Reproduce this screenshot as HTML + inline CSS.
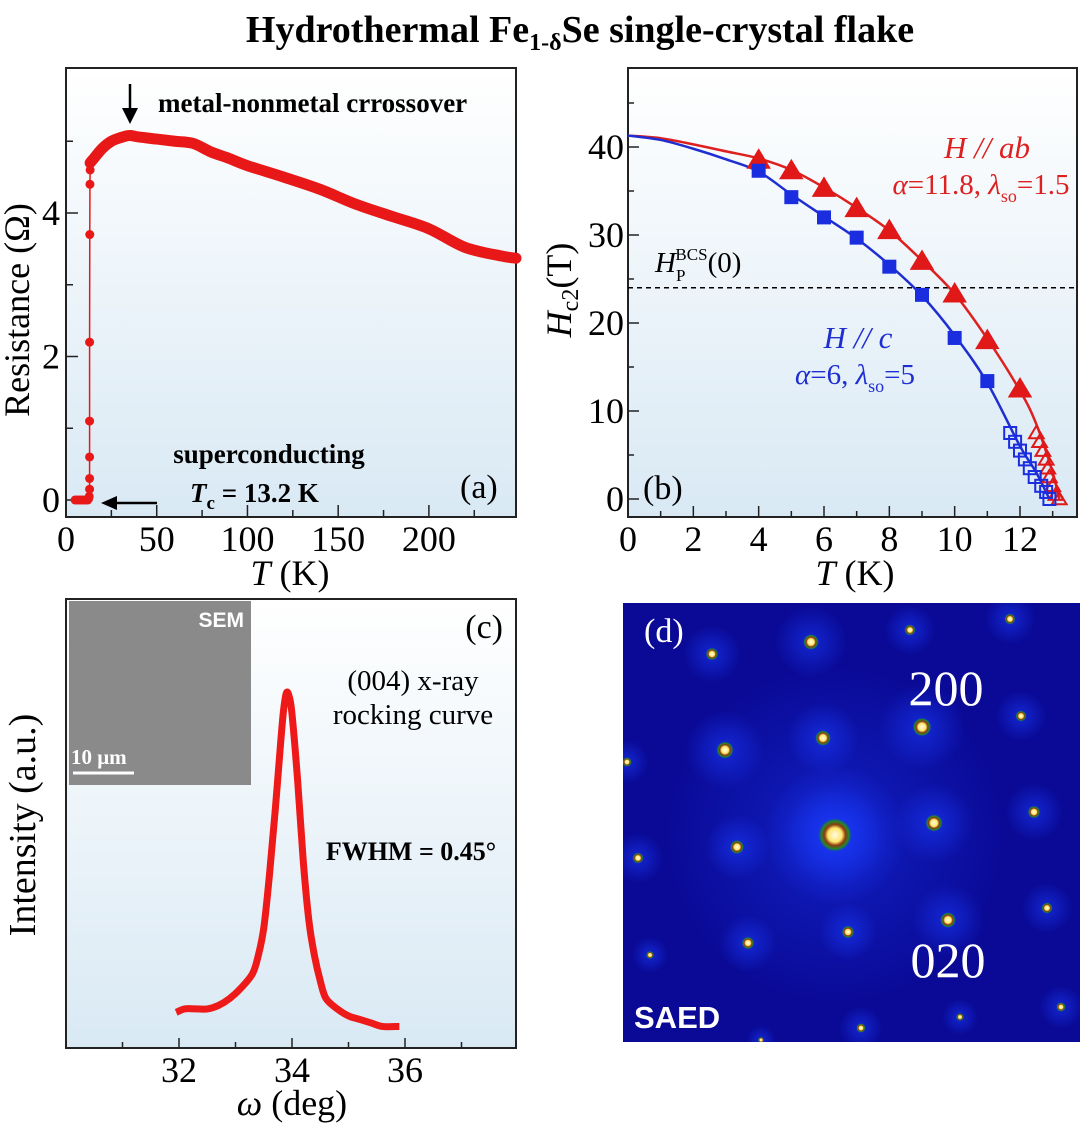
<!DOCTYPE html>
<html><head><meta charset="utf-8"><style>
html,body{margin:0;padding:0;background:#fff;}
svg{display:block;font-family:"Liberation Serif",serif;}
</style></head><body>
<svg id="fig" width="1080" height="1124" viewBox="0 0 1080 1124" xmlns="http://www.w3.org/2000/svg" font-family="Liberation Serif, serif">
<defs>
<linearGradient id="bg" x1="0" y1="0" x2="0" y2="1"><stop offset="0" stop-color="#ffffff"/><stop offset="1" stop-color="#d9e9f4"/></linearGradient>
<radialGradient id="halo"><stop offset="0" stop-color="#1a3cff" stop-opacity="0.95"/><stop offset="1" stop-color="#1a3cff" stop-opacity="0"/></radialGradient>
<radialGradient id="core"><stop offset="0" stop-color="#fffbe8"/><stop offset="0.4" stop-color="#ffe66a"/><stop offset="0.6" stop-color="#8a3a10"/><stop offset="0.8" stop-color="#1f8a2a"/><stop offset="1" stop-color="#1030e0" stop-opacity="0"/></radialGradient>
<clipPath id="dclip"><rect x="623" y="603" width="457" height="439"/></clipPath>
</defs>
<text x="580" y="42" text-anchor="middle" font-size="38" font-weight="bold">Hydrothermal Fe<tspan font-size="24" dy="8">1-δ</tspan><tspan dy="-8">Se single-crystal flake</tspan></text>
</svg>
<script>
// ---------- Panel (a) data ----------
const aTempLine = [13.3,15,20,25,30,35,40,50,60,70,80,90,100,120,140,160,180,200,220,240,248];
const aResLine  = [4.7,4.75,4.9,5.0,5.05,5.08,5.06,5.03,5.0,4.97,4.85,4.76,4.66,4.5,4.33,4.12,3.95,3.78,3.52,3.4,3.37];
const aTempDots = [5,6,7,8,9,10,11,12,12.5,12.8,13,13,13,13,13,13.1,13.2,13.3,13.4];
const aResDots  = [0,0,0,0,0,0,0,0,0.02,0.05,0.15,0.3,0.6,1.1,2.2,3.7,4.4,4.6,4.7];
const aXTicks = [0,50,100,150,200];
const aYTicks = [0,2,4];
// ---------- Panel (b) data ----------
const bTab = [4,5,6,7,8,9,10,11,12];
const bHab = [38.5,37.3,35.3,33,30.5,27,23.3,18,12.5];
const bTabOpen = [12.5,12.6,12.7,12.8,12.85,12.9,13,13.1,13.2];
const bHabOpen = [7.5,6.5,5.5,4.5,3.5,2.5,1.5,0.5,0];
const bTc = [4,5,6,7,8,9,10,11];
const bHc = [37.3,34.3,32,29.7,26.4,23.2,18.3,13.4];
const bTcOpen = [11.7,11.85,12.0,12.15,12.3,12.45,12.65,12.8,12.9];
const bHcOpen = [7.5,6.5,5.5,4.5,3.5,2.5,1.5,0.8,0];
const bFitTab = [0,1,2,3,4,5,6,7,8,9,10,11,12,12.5,13,13.2];
const bFitHab = [41.3,41,40.3,39.5,38.7,37.4,35.4,33.1,30.5,27.1,23.3,18.2,12.3,8.5,3,0];
const bFitTc  = [0,1,2,3,4,5,6,7,8,9,10,11,12,12.5,12.9];
const bFitHc  = [41.3,40.8,39.8,38.6,37.2,34.6,32.1,29.6,26.6,23.1,18.6,13.2,6,3,0];
const bPauli = 24;
const bXTicks = [0,2,4,6,8,10,12];
const bYTicks = [0,10,20,30,40];
// ---------- Panel (c) data ----------
const cOmega = [31.95,32.1,32.3,32.5,32.7,32.9,33.1,33.3,33.4,33.5,33.6,33.7,33.8,33.85,33.9,33.95,34.0,34.1,34.2,34.3,34.4,34.5,34.6,34.8,35.0,35.2,35.4,35.6,35.9];
const cInt   = [0.09,0.1,0.1,0.1,0.11,0.13,0.16,0.2,0.25,0.33,0.48,0.66,0.86,0.95,1.0,0.99,0.94,0.75,0.52,0.35,0.25,0.18,0.13,0.1,0.08,0.07,0.06,0.05,0.05];
const cXTicks = [32,34,36];
// ---------- Panel (d) spots ----------
const dSpotX = [712,811,910,1010,725,823,922,1021,627,835,934,1034,737,638,948,848,748,1047,650,1061,960,861,761];
const dSpotY = [654,642,630,619,750,738,727,716,762,835,823,812,847,858,920,932,943,908,955,1007,1017,1028,1040];
const dSpotS = [0.8,1,0.7,0.7,1.1,1,1.2,0.7,0.6,2.2,1.1,0.8,0.9,0.7,1,0.8,0.8,0.7,0.5,0.6,0.5,0.6,0.4];

const NS="http://www.w3.org/2000/svg";
const svg=document.getElementById('fig');
function el(tag,attrs,parent){const e=document.createElementNS(NS,tag);for(const k in attrs)e.setAttribute(k,attrs[k]);(parent||svg).appendChild(e);return e;}
function lin(d0,d1,r0,r1){return v=>r0+(v-d0)*(r1-r0)/(d1-d0);}
function smooth(pts){let d=`M${pts[0][0]},${pts[0][1]}`;for(let i=0;i<pts.length-1;i++){const p0=pts[i-1]||pts[i],p1=pts[i],p2=pts[i+1],p3=pts[i+2]||p2;d+=` C${p1[0]+(p2[0]-p0[0])/6},${p1[1]+(p2[1]-p0[1])/6} ${p2[0]-(p3[0]-p1[0])/6},${p2[1]-(p3[1]-p1[1])/6} ${p2[0]},${p2[1]}`;}return d;}
function txt(x,y,s,size,attrs,name,parent){const t=el('text',Object.assign({x:x,y:y,'font-size':size},attrs||{}),parent);t.innerHTML=s;

return t;}
function frame(x0,y0,x1,y1,name){const r=el('rect',{x:x0,y:y0,width:x1-x0,height:y1-y0,fill:'url(#bg)',stroke:'#222','stroke-width':2});

}
const TK=36;

// ===== Panel A =====
(function(){
const X=lin(0,248,66,516),Y=lin(0,4,500,213);
frame(66,68,516,517,'panel-a-frame');
for(let v=0;v<=225;v+=25){const x=X(v);const t=el('line',{x1:x,x2:x,y1:517,y2:v%50?510:505,stroke:'#222','stroke-width':1.5});

}
for(let v=0;v<=5;v++){const y=Y(v);const t=el('line',{x1:66,x2:v%2?73:78,y1:y,y2:y,stroke:'#222','stroke-width':1.5});

}
aXTicks.forEach(v=>txt(X(v),551,v,TK,{'text-anchor':'middle'},'a-x-tick-label'));
aYTicks.forEach(v=>txt(60,Y(v)+12,v,TK,{'text-anchor':'end'},'a-y-tick-label'));
txt(290,585,'<tspan font-style="italic">T</tspan> (K)',36,{'text-anchor':'middle'},'a-x-axis-title');
txt(0,0,'Resistance (Ω)',36,{'text-anchor':'middle',transform:'translate(29,310) rotate(-90)'},'a-y-axis-title');
const p=el('path',{d:'M'+aTempDots.map((t,i)=>X(t)+','+Y(aResDots[i])).join(' L'),fill:'none',stroke:'#e81818','stroke-width':1.5});


const l=el('path',{d:smooth(aTempLine.map((t,i)=>[X(t),Y(aResLine[i])])),fill:'none',stroke:'#e81818','stroke-width':11,'stroke-linecap':'round'});


aTempDots.forEach((t,i)=>{const c=el('circle',{cx:X(t),cy:Y(aResDots[i]),r:4.5,fill:'#e81818'});

});
txt(158,112,'metal-nonmetal crrossover',27,{'font-weight':'bold'},'a-crossover-label');
el('line',{x1:130,y1:84,x2:130,y2:112,stroke:'#000','stroke-width':2.5});
el('path',{d:'M122,108 L130,124 L138,108 Z',fill:'#000'});
txt(269,463,'superconducting',27,{'font-weight':'bold','text-anchor':'middle'},'a-superconducting-label');
txt(190,502,'<tspan font-style="italic">T</tspan><tspan font-size="19" dy="7">c</tspan><tspan dy="-7"> = 13.2 K</tspan>',27,{'font-weight':'bold'},'a-tc-label');
el('line',{x1:157,y1:503,x2:113,y2:503,stroke:'#000','stroke-width':2.5});
el('path',{d:'M117,496 L101,503 L117,510 Z',fill:'#000'});
txt(460,498,'(a)',34,{},'a-panel-label');
})();

// ===== Panel B =====
(function(){
const X=lin(0,12,628,1020),Y=lin(0,40,499,147);
frame(628,68,1077,517,'panel-b-frame');
for(let v=0;v<=13;v++){const x=X(v);const t=el('line',{x1:x,x2:x,y1:517,y2:v%2?511:506,stroke:'#222','stroke-width':1.5});

}
for(let v=0;v<=45;v+=5){const y=Y(v);const t=el('line',{x1:628,x2:v%10?634:639,y1:y,y2:y,stroke:'#222','stroke-width':1.5});

}
bXTicks.forEach(v=>txt(X(v),551,v,TK,{'text-anchor':'middle'},'b-x-tick-label'));
bYTicks.forEach(v=>txt(624,Y(v)+12,v,TK,{'text-anchor':'end'},'b-y-tick-label'));
txt(855,585,'<tspan font-style="italic">T</tspan> (K)',36,{'text-anchor':'middle'},'b-x-axis-title');
txt(0,0,'<tspan font-style="italic">H</tspan><tspan font-size="24" dy="7">c2</tspan><tspan dy="-7">(T)</tspan>',36,{'text-anchor':'middle',transform:'translate(571,290) rotate(-90)'},'b-y-axis-title');
const d=el('line',{x1:628,x2:1077,y1:Y(bPauli),y2:Y(bPauli),stroke:'#000','stroke-width':1.5,'stroke-dasharray':'5,4'});


const fa=el('path',{d:smooth(bFitTab.map((t,i)=>[X(t),Y(bFitHab[i])])),fill:'none',stroke:'#dd2020','stroke-width':2.5});


const fc=el('path',{d:smooth(bFitTc.map((t,i)=>[X(t),Y(bFitHc[i])])),fill:'none',stroke:'#1e2ed0','stroke-width':2.5});


function tri(x,y,fill,stroke,s){return el('path',{d:`M${x},${y-s} L${x+s*1.05},${y+s*0.75} L${x-s*1.05},${y+s*0.75} Z`,fill:fill,stroke:stroke,'stroke-width':2});}
bTab.forEach((t,i)=>{const m=tri(X(t),Y(bHab[i]),'#e01818','#e01818',10);

});
bTabOpen.forEach((t,i)=>{const m=tri(X(t),Y(bHabOpen[i]),'none','#e01818',7);

});
bTc.forEach((t,i)=>{const m=el('rect',{x:X(t)-7,y:Y(bHc[i])-7,width:14,height:14,fill:'#1a2ee0'});

});
bTcOpen.forEach((t,i)=>{const m=el('rect',{x:X(t)-6,y:Y(bHcOpen[i])-6,width:12,height:12,fill:'none',stroke:'#1a2ee0','stroke-width':2});

});
txt(987,158,'H // ab',31,{'font-style':'italic',fill:'#dd2020','text-anchor':'middle'},'hab-label');
txt(981,194,'<tspan font-style="italic">α</tspan>=11.8, <tspan font-style="italic">λ</tspan><tspan font-size="18" dy="8">so</tspan><tspan dy="-8">=1.5</tspan>',29,{fill:'#dd2020','text-anchor':'middle'},'hab-params');
txt(655,272,'<tspan font-style="italic">H</tspan><tspan font-size="17" dy="9">P</tspan><tspan font-size="17" dx="-10" dy="-21">BCS</tspan><tspan dy="12">(0)</tspan>',29,{},'pauli-label');
txt(858,348,'H // c',31,{'font-style':'italic',fill:'#1e2ed0','text-anchor':'middle'},'hc-label');
txt(855,384,'<tspan font-style="italic">α</tspan>=6, <tspan font-style="italic">λ</tspan><tspan font-size="18" dy="8">so</tspan><tspan dy="-8">=5</tspan>',29,{fill:'#1e2ed0','text-anchor':'middle'},'hc-params');
txt(643,499,'(b)',34,{},'b-panel-label');
})();

// ===== Panel C =====
(function(){
const X=lin(32,36,179,405),Y=lin(0,1,1044,693);
frame(66,599,516,1048,'panel-c-frame');
for(let v=31;v<=37;v++){const x=X(v);const t=el('line',{x1:x,x2:x,y1:1048,y2:v%2?1042:1038,stroke:'#222','stroke-width':1.5});

}
cXTicks.forEach(v=>txt(X(v),1082,v,TK,{'text-anchor':'middle'},'c-x-tick-label'));
txt(292,1115,'<tspan font-style="italic">ω</tspan> (deg)',36,{'text-anchor':'middle'},'c-x-axis-title');
txt(0,0,'Intensity (a.u.)',38,{'text-anchor':'middle',transform:'translate(35,825) rotate(-90)'},'c-y-axis-title');
const sem=el('rect',{x:69,y:601,width:182,height:184,fill:'#8a8a8a'});


txt(244,627,'SEM',21,{'font-family':'Liberation Sans, sans-serif','font-weight':'bold',fill:'#fff','text-anchor':'end'},'sem-label');
txt(71,764,'10 μm',21,{'font-weight':'bold',fill:'#fff'},'scale-bar-label');
el('line',{x1:73,x2:134,y1:773,y2:773,stroke:'#fff','stroke-width':3});
const c=el('path',{d:smooth(cOmega.map((t,i)=>[X(t),Y(cInt[i])])),fill:'none',stroke:'#ee1a1a','stroke-width':7,'stroke-linejoin':'round'});


txt(503,638,'(c)',34,{'text-anchor':'end'},'c-panel-label');
txt(413,690,'(004) x-ray',29,{'text-anchor':'middle'},'rocking-label-1');
txt(413,724,'rocking curve',29,{'text-anchor':'middle'},'rocking-label-2');
txt(411,860,'FWHM = 0.45°',26,{'font-weight':'bold','text-anchor':'middle'},'fwhm-label');
})();

// ===== Panel D =====
(function(){
const g=el('g',{'clip-path':'url(#dclip)'});


el('rect',{x:623,y:603,width:457,height:439,fill:'#0a0a96'},g);
el('circle',{cx:835,cy:835,r:170,fill:'url(#halo)',opacity:0.45},g);
el('circle',{cx:835,cy:835,r:70,fill:'url(#halo)',opacity:0.7},g);
dSpotX.forEach((x,i)=>{const s=dSpotS[i];
el('circle',{cx:x,cy:dSpotY[i],r:36*Math.min(s,1.4),fill:'url(#halo)',opacity:0.6},g);
const c=el('circle',{cx:x,cy:dSpotY[i],r:8*s,fill:'url(#core)'},g);

});
txt(946,705,'200',50,{fill:'#fff','text-anchor':'middle'},'spot-200-label',g);
txt(948,977,'020',50,{fill:'#fff','text-anchor':'middle'},'spot-020-label',g);
txt(644,642,'(d)',34,{fill:'#fff'},'d-panel-label',g);
txt(634,1028,'SAED',31,{'font-family':'Liberation Sans, sans-serif','font-weight':'bold',fill:'#fff'},'saed-label',g);
})();
</script>
</body></html>
